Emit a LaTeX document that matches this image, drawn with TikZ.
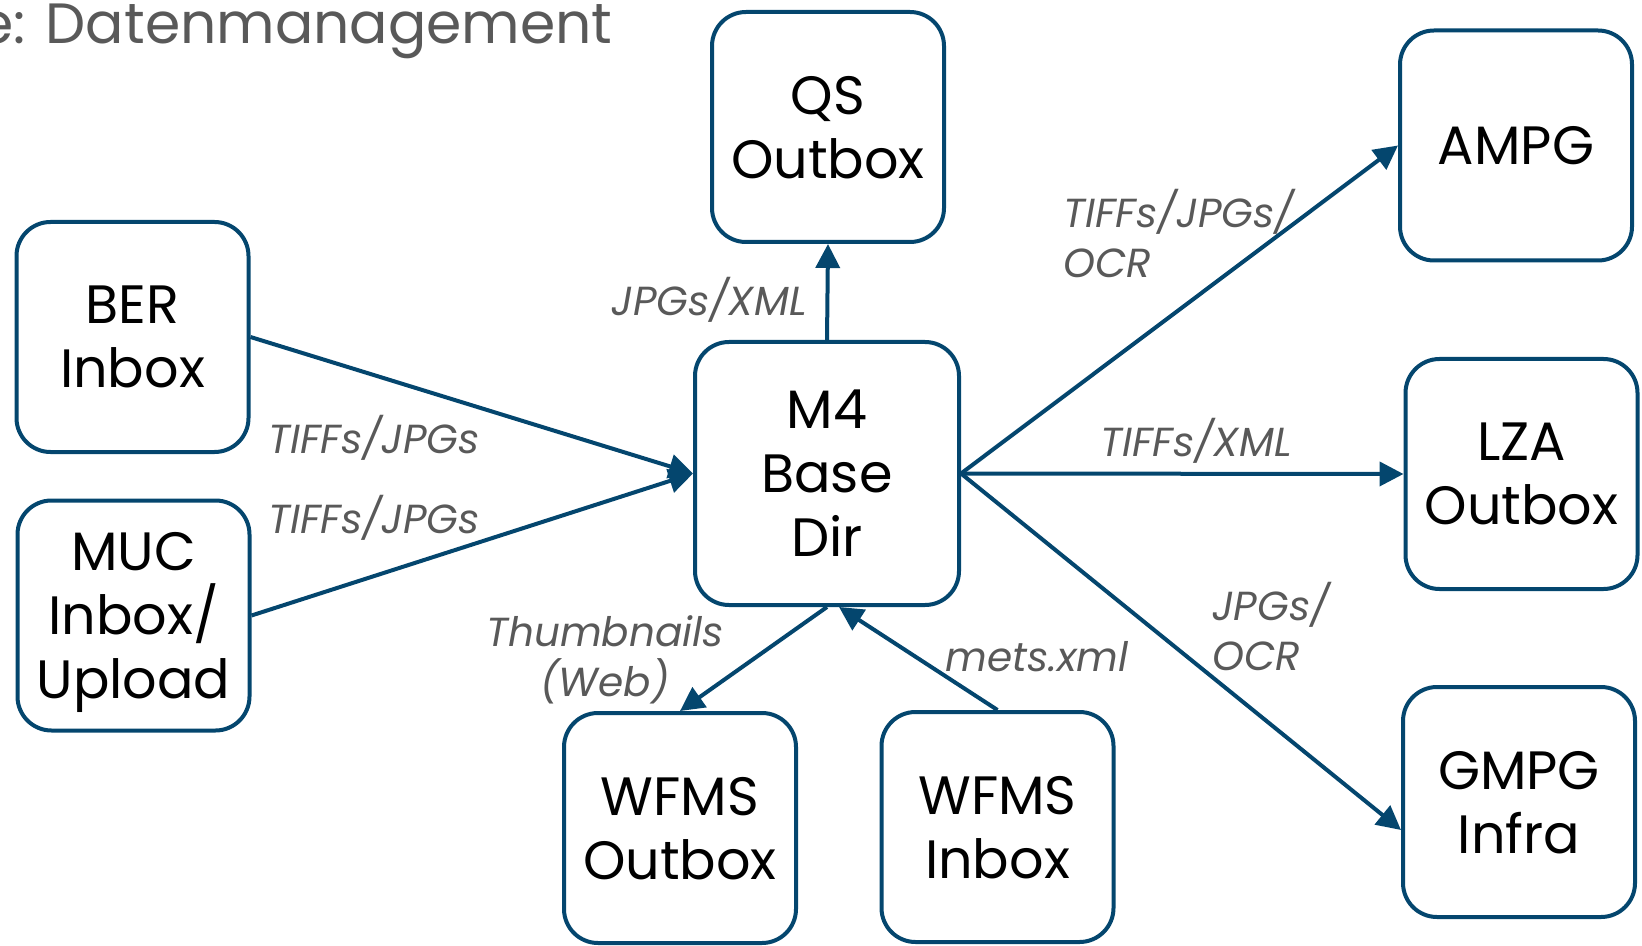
\documentclass[tikz,border=0pt]{standalone}
\usepackage{fontspec}
\setmainfont{Poppins}
\usetikzlibrary{arrows.meta}
\definecolor{boxblue}{HTML}{04466E}
\definecolor{lblgray}{HTML}{595959}
\begin{document}
\begin{tikzpicture}[x=0.5pt,y=-0.5pt,
  box/.style={draw=boxblue,line width=2pt,rounded corners=17pt,fill=white,
    minimum width=116pt,minimum height=115pt,align=center,inner sep=0pt,
    text depth=0pt,font=\fontsize{27}{32}\selectfont},
  conn/.style={draw=boxblue,line width=2pt,-{Triangle[length=12pt,width=12pt]}},
  lbl/.style={text=lblgray,align=center,inner sep=0pt,
    font=\fontsize{20.3}{25}\selectfont\itshape}]
\useasboundingbox (0,0) rectangle (1642,946);
% title
\node[anchor=base east,inner sep=0pt,text=lblgray,font=\fontsize{28.4}{34}\selectfont] (title) at (613,44) {e: Datenmanagement};
% nodes
\node[box] (qs) at (828,127) {QS\\Outbox};
\node[box] (ber) at (132.5,337) {BER\\Inbox};
\node[box] (muc) at (133.5,615.5) {MUC\\Inbox/\\Upload};
\node[box,minimum width=132pt,minimum height=131.5pt] (m4) at (827,473.5) {M4\\Base\\Dir};
\node[box] (ampg) at (1516,145.5) {AMPG};
\node[box] (lza) at (1521.5,474) {LZA\\Outbox};
\node[box] (gmpg) at (1519,802) {GMPG\\Infra};
\node[box] (wout) at (680,828) {WFMS\\Outbox};
\node[box] (win) at (997.5,827) {WFMS\\Inbox};
% connectors
\draw[conn] (ber.east) -- (m4.west);
\draw[conn] (muc.east) -- (m4.west);
\draw[conn] (m4.north) -- (qs.south);
\draw[conn] (m4.east) -- (ampg.west);
\draw[conn] (m4.east) -- (lza.west);
\draw[conn] (m4.east) -- ([yshift=-14pt]gmpg.west);
\draw[conn] (m4.south) -- (wout.north);
\draw[conn] (win.north) -- ([xshift=6pt]m4.south);
% labels
\node[lbl,anchor=east] (l1) at (807,300) {JPGs/XML};
\node[lbl] (l2) at (374,438) {TIFFs/JPGs};
\node[lbl] (l3) at (374,518) {TIFFs/JPGs};
\node[lbl,align=left,anchor=west] (l4) at (1063,234) {TIFFs/JPGs/\\OCR};
\node[lbl] (l5) at (1196,441) {TIFFs/XML};
\node[lbl,align=left,anchor=west] (l6) at (1212,627) {JPGs/\\OCR};
\node[lbl] (l7) at (605,660) {Thumbnails\\(Web)};
\node[lbl] (l8) at (1037,657) {mets.xml};
\end{tikzpicture}
\end{document}
